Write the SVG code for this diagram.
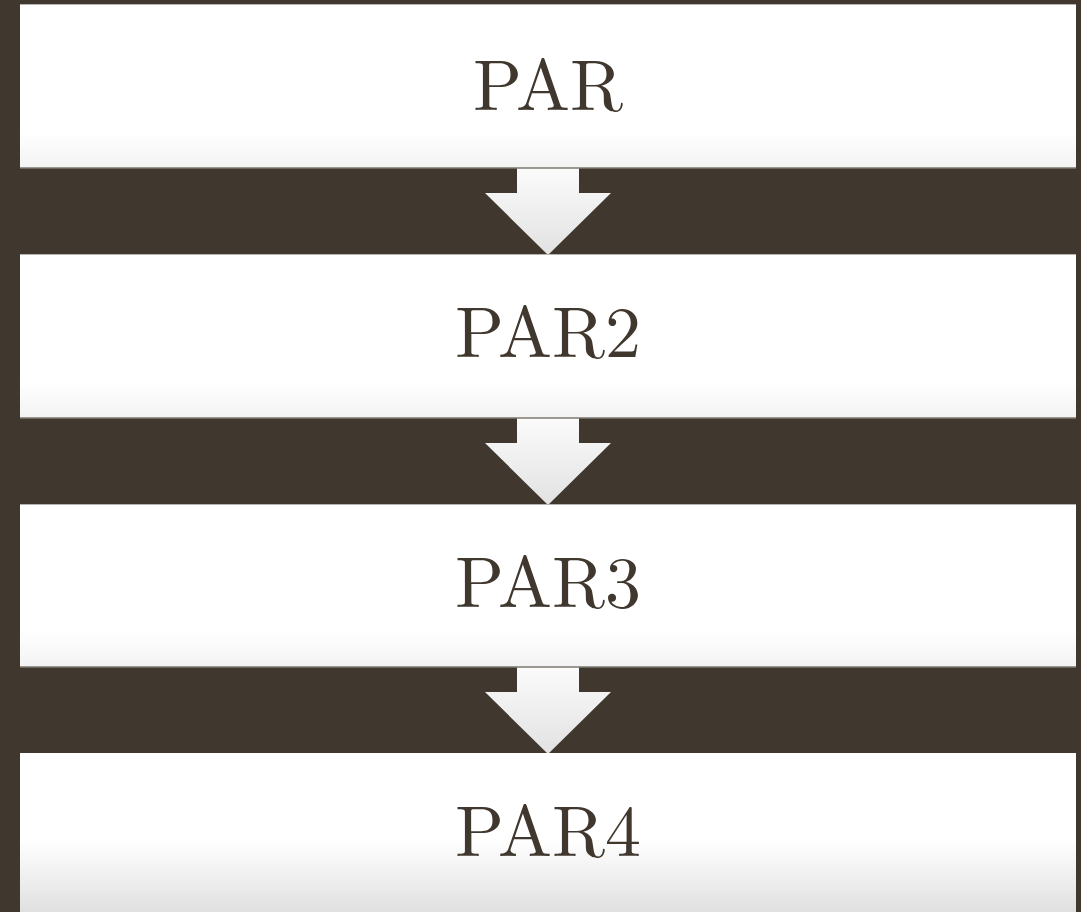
<svg xmlns="http://www.w3.org/2000/svg" width="1081" height="912" viewBox="0 0 1081 912">
  <defs>
    <linearGradient id="boxGrad" x1="0" y1="0" x2="0" y2="1">
      <stop offset="0" stop-color="#ffffff"/>
      <stop offset="0.78" stop-color="#ffffff"/>
      <stop offset="1" stop-color="#f3f3f3"/>
    </linearGradient>
    <linearGradient id="lastGrad" x1="0" y1="0" x2="0" y2="1">
      <stop offset="0" stop-color="#ffffff"/>
      <stop offset="0.53" stop-color="#ffffff"/>
      <stop offset="1" stop-color="#dedede"/>
    </linearGradient>
    <linearGradient id="arrowGrad" x1="0" y1="0" x2="0" y2="1">
      <stop offset="0" stop-color="#fbfbfb"/>
      <stop offset="1" stop-color="#e2e2e2"/>
    </linearGradient>
    <path id="arrow" d="M517,0 L579,0 L579,25 L611,25 L548,87 L485,25 L517,25 Z"/>
  </defs>
  <style>
    .bg { fill: #40382e; }
    .box { fill: url(#boxGrad); }
    .last { fill: url(#lastGrad); }
    .topline { stroke: #b5b3ae; stroke-width: 1; }
    .botline { stroke: #7d786f; stroke-width: 1.5; }
    .label { font-family: "Latin Modern Roman", "Liberation Serif", "DejaVu Serif", serif; font-size: 72px; fill: #40382e; text-anchor: middle; }
    .arr { fill: url(#arrowGrad); }
  </style>
  <rect class="bg" x="0" y="0" width="1081" height="912"/>

  <g id="connectors">
    <use href="#arrow" class="arr" transform="translate(0,168)"/>
    <use href="#arrow" class="arr" transform="translate(0,418)"/>
    <use href="#arrow" class="arr" transform="translate(0,667)"/>
  </g>

  <g id="node-par">
    <rect class="box" x="20" y="4" width="1056" height="164"/>
    <line class="topline" x1="20" y1="4.5" x2="1076" y2="4.5"/>
    <line class="botline" x1="20" y1="168" x2="1076" y2="168"/>
    <text class="label" x="548" y="110">PAR</text>
  </g>
  <g id="node-par2">
    <rect class="box" x="20" y="254" width="1056" height="164"/>
    <line class="topline" x1="20" y1="254.5" x2="1076" y2="254.5"/>
    <line class="botline" x1="20" y1="418" x2="1076" y2="418"/>
    <text class="label" x="548" y="357">PAR2</text>
  </g>
  <g id="node-par3">
    <rect class="box" x="20" y="504" width="1056" height="163"/>
    <line class="topline" x1="20" y1="504.5" x2="1076" y2="504.5"/>
    <line class="botline" x1="20" y1="667" x2="1076" y2="667"/>
    <text class="label" x="548" y="607">PAR3</text>
  </g>
  <g id="node-par4">
    <rect class="last" x="20" y="753" width="1056" height="164"/>
    <text class="label" x="548" y="856">PAR4</text>
  </g>
</svg>
